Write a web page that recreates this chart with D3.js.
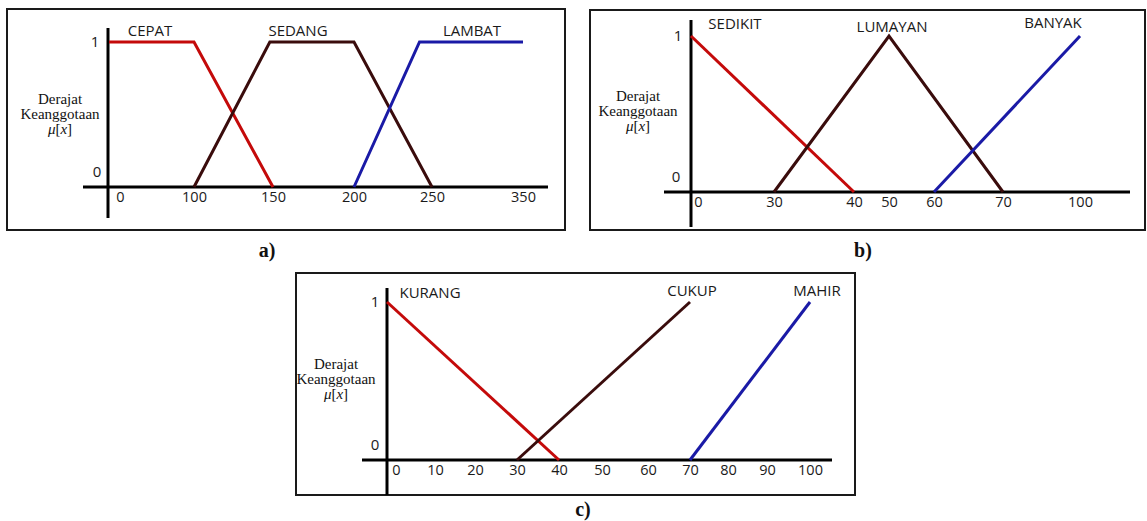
<!DOCTYPE html>
<html>
<head>
<meta charset="utf-8">
<script src="https://cdn.jsdelivr.net/npm/d3@7"></script>
<style>
  body { margin: 0; background: #fff; }
  .tick text { font-family: "Open Sans", sans-serif; font-size: 14.5px; fill: #1a1a1a; }
  .mf-label { font-family: "Open Sans", sans-serif; font-size: 15px; fill: #1a1a1a; }
  .ylab { font-family: "Liberation Serif", serif; font-size: 15px; fill: #111; }
  .caption { font-family: "Liberation Serif", serif; font-size: 20px; font-weight: bold; fill: #111; }
</style>
</head>
<body>
<div class="chart"></div>
<script>
var svgWidth = 1147;
var svgHeight = 521;

// a) waktu
var ticksA = [0, 100, 150, 200, 250, 350];
var namesA = ["CEPAT", "SEDANG", "LAMBAT"];
var cepat = [[0, 1], [100, 1], [150, 0]];
var sedang = [[100, 0], [148, 1], [200, 1], [250, 0]];
var lambat = [[200, 0], [242, 1], [350, 1]];

// b) jumlah
var ticksB = [0, 30, 40, 50, 60, 70, 100];
var namesB = ["SEDIKIT", "LUMAYAN", "BANYAK"];
var sedikit = [[0, 1], [40, 0]];
var lumayan = [[30, 0], [50, 1], [70, 0]];
var banyak = [[60, 0], [100, 1]];

// c) kemampuan
var ticksC = [0, 10, 20, 30, 40, 50, 60, 70, 80, 90, 100];
var namesC = ["KURANG", "CUKUP", "MAHIR"];
var kurang = [[0, 1], [40, 0]];
var cukup = [[30, 0], [70, 1]];
var mahir = [[70, 0], [100, 1]];

var colors = ["#c40a0a", "#3a0c0c", "#1a1aa6"];

var svg = d3.select(".chart")
  .append("svg")
  .attr("width", svgWidth)
  .attr("height", svgHeight);

// layout of each panel (pixels)
var panels = [
  {
    caption: "a)", capX: 267, capY: 257,
    frame: [7, 9, 565, 230],
    yAxisX: 108, yAxisTop: 28, yAxisBottom: 218,
    xAxisY: 187, xAxisLeft: 83, xAxisRight: 548,
    ticks: ticksA, range: [109, 194, 273, 354, 432, 523],
    y1: 42, zeroOff: 11,
    names: namesA, series: [cepat, sedang, lambat],
    labelPos: [[150, 36], [298, 36], [472, 36]],
    oneX: 95, zeroX: 97, zeroY: 177,
    ylabX: 60, ylabY: 104
  },
  {
    caption: "b)", capX: 863, capY: 257,
    frame: [590, 10, 1145, 230],
    yAxisX: 691, yAxisTop: 20, yAxisBottom: 227,
    xAxisY: 192, xAxisLeft: 664, xAxisRight: 1130,
    ticks: ticksB, range: [691, 774, 854, 889, 934, 1003, 1080],
    y1: 36, zeroOff: 7,
    names: namesB, series: [sedikit, lumayan, banyak],
    labelPos: [[735, 29], [892, 32], [1053, 28]],
    oneX: 678, zeroX: 676, zeroY: 182,
    ylabX: 638, ylabY: 101
  },
  {
    caption: "c)", capX: 583, capY: 516,
    frame: [296, 273, 855, 495],
    yAxisX: 387, yAxisTop: 288, yAxisBottom: 495,
    xAxisY: 460, xAxisLeft: 362, xAxisRight: 832,
    ticks: ticksC, range: [387, 435, 475, 517, 559, 602, 648, 690, 728, 767, 810],
    y1: 302, zeroOff: 9,
    names: namesC, series: [kurang, cukup, mahir],
    labelPos: [[430, 298], [692, 296], [817, 296]],
    oneX: 375, zeroX: 375, zeroY: 450,
    ylabX: 336, ylabY: 369
  }
];

panels.forEach(function (p) {
  var g = svg.append("g");

  var xScale = d3.scaleLinear()
    .domain(p.ticks)
    .range(p.range);

  var yScale = d3.scaleLinear()
    .domain([0, 1])
    .range([p.xAxisY, p.y1]);

  // frame
  g.append("rect")
    .attr("x", p.frame[0])
    .attr("y", p.frame[1])
    .attr("width", p.frame[2] - p.frame[0])
    .attr("height", p.frame[3] - p.frame[1])
    .attr("fill", "none")
    .attr("stroke", "#1a1a1a")
    .attr("stroke-width", 2);

  // y axis title (drawn under the axes)
  var ylab = g.append("text")
    .attr("class", "ylab")
    .attr("text-anchor", "middle");
  ylab.append("tspan").attr("x", p.ylabX).attr("y", p.ylabY).text("Derajat");
  ylab.append("tspan").attr("x", p.ylabX).attr("y", p.ylabY + 15).text("Keanggotaan");
  var mu = ylab.append("tspan").attr("x", p.ylabX).attr("y", p.ylabY + 30);
  mu.append("tspan").attr("font-style", "italic").text("\u03bc");
  mu.append("tspan").text("[");
  mu.append("tspan").attr("font-style", "italic").text("x");
  mu.append("tspan").text("]");

  // axes lines
  g.append("line")
    .attr("x1", p.yAxisX).attr("x2", p.yAxisX)
    .attr("y1", p.yAxisTop).attr("y2", p.yAxisBottom)
    .attr("stroke", "#000")
    .attr("stroke-width", 3);

  g.append("line")
    .attr("x1", p.xAxisLeft).attr("x2", p.xAxisRight)
    .attr("y1", p.xAxisY).attr("y2", p.xAxisY)
    .attr("stroke", "#000")
    .attr("stroke-width", 3);

  // tick labels
  var bottomAxis = d3.axisBottom(xScale)
    .tickValues(p.ticks)
    .tickFormat(d3.format("d"))
    .tickSize(0)
    .tickPadding(5);

  var xAxis = g.append("g")
    .attr("transform", `translate(0, ${p.xAxisY})`)
    .call(bottomAxis);
  xAxis.select(".domain").remove();
  xAxis.selectAll(".tick text")
    .attr("font-family", null)
    .attr("font-size", null)
    .attr("dx", d => d === 0 ? p.zeroOff : 0);

  // y labels 1 / 0
  g.append("text")
    .attr("class", "mf-label")
    .attr("x", p.oneX)
    .attr("y", yScale(1) + 5)
    .attr("text-anchor", "middle")
    .text("1");

  g.append("text")
    .attr("class", "mf-label")
    .attr("x", p.zeroX)
    .attr("y", p.zeroY)
    .attr("text-anchor", "middle")
    .text("0");

  // membership functions
  var line = d3.line()
    .x(d => xScale(d[0]))
    .y(d => yScale(d[1]));

  g.selectAll(".mf")
    .data(p.series)
    .enter()
    .append("path")
    .attr("class", "mf")
    .attr("d", line)
    .attr("fill", "none")
    .attr("stroke", (d, i) => colors[i])
    .attr("stroke-width", 3)
    .attr("stroke-linejoin", "miter");

  g.selectAll(".name")
    .data(p.names)
    .enter()
    .append("text")
    .attr("class", "mf-label")
    .attr("x", (d, i) => p.labelPos[i][0])
    .attr("y", (d, i) => p.labelPos[i][1])
    .attr("text-anchor", "middle")
    .text(d => d);

  // caption
  svg.append("text")
    .attr("class", "caption")
    .attr("x", p.capX)
    .attr("y", p.capY)
    .attr("text-anchor", "middle")
    .text(p.caption);
});
</script>
</body>
</html>
